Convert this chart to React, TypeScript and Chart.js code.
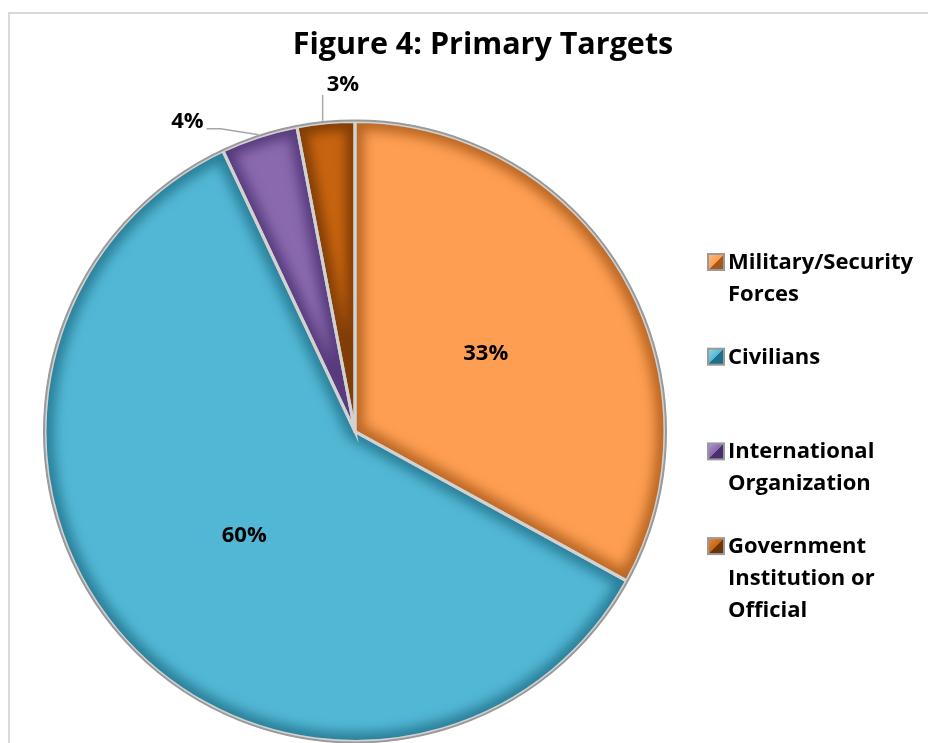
import React, { useEffect, useRef } from "react";
import { Chart, registerables } from "chart.js";

Chart.register(...registerables);

const titleText = "Figure 4: Primary Targets";
const categories = [
  "Military/Security Forces",
  "Civilians",
  "International Organization",
  "Government Institution or Official",
];
const legendLines = [
  ["Military/Security", "Forces"],
  ["Civilians"],
  ["International", "Organization"],
  ["Government", "Institution or", "Official"],
];
const shares = [33, 60, 4, 3];
const shareLabels = ["33%", "60%", "4%", "3%"];
const fillColors = ["#FD9E52", "#52B7D4", "#8A69AE", "#C8640F"];
const shadeColors = ["#A85818", "#1F6F88", "#4A2F70", "#6E3304"];
const lightColors = ["#FFC08A", "#9ADCEC", "#B79BD6", "#E8934A"];

const FONT = "'Open Sans', 'Noto Sans', sans-serif";

const decorPlugin = {
  id: "decor",
  beforeDraw(chart: any) {
    const ctx = chart.ctx as CanvasRenderingContext2D;
    ctx.save();
    ctx.fillStyle = "#ffffff";
    ctx.fillRect(0, 0, chart.width, chart.height);
    ctx.strokeStyle = "#d9d9d9";
    ctx.lineWidth = 2;
    ctx.beginPath();
    ctx.moveTo(9, chart.height);
    ctx.lineTo(9, 13);
    ctx.lineTo(chart.width, 13);
    ctx.stroke();
    ctx.restore();
  },
  afterDatasetsDraw(chart: any) {
    const ctx = chart.ctx as CanvasRenderingContext2D;
    const meta = chart.getDatasetMeta(0);
    const arcs = meta.data.map((a: any) =>
      a.getProps(["x", "y", "startAngle", "endAngle", "outerRadius"], true)
    );
    // inner bevel shading
    arcs.forEach((p: any, i: number) => {
      ctx.save();
      ctx.beginPath();
      ctx.moveTo(p.x, p.y);
      ctx.arc(p.x, p.y, p.outerRadius, p.startAngle, p.endAngle);
      ctx.closePath();
      ctx.clip();
      ctx.filter = "blur(6px)";
      ctx.globalAlpha = 0.8;
      ctx.strokeStyle = shadeColors[i];
      ctx.lineWidth = 18;
      ctx.stroke();
      ctx.restore();
    });
    // separators
    arcs.forEach((p: any) => {
      ctx.save();
      ctx.beginPath();
      ctx.moveTo(p.x, p.y);
      ctx.arc(p.x, p.y, p.outerRadius, p.startAngle, p.endAngle);
      ctx.closePath();
      ctx.lineJoin = "miter";
      ctx.strokeStyle = "#d2d2d2";
      ctx.lineWidth = 3;
      ctx.stroke();
      ctx.restore();
    });
    // outer rim
    if (arcs.length) {
      const p = arcs[0];
      ctx.save();
      ctx.beginPath();
      ctx.arc(p.x, p.y, p.outerRadius + 1, 0, Math.PI * 2);
      ctx.strokeStyle = "#9a9a9a";
      ctx.lineWidth = 2;
      ctx.stroke();
      ctx.restore();
    }
    // data labels
    ctx.save();
    ctx.font = `bold 22px ${FONT}`;
    ctx.fillStyle = "#000000";
    ctx.textBaseline = "middle";
    arcs.forEach((p: any, i: number) => {
      const a = (p.startAngle + p.endAngle) / 2;
      const dx = Math.cos(a);
      const dy = Math.sin(a);
      if (shares[i] >= 10) {
        ctx.textAlign = "center";
        ctx.fillText(shareLabels[i], p.x + dx * p.outerRadius * 0.49, p.y + dy * p.outerRadius * 0.49);
      } else {
        const ax = p.x + dx * (p.outerRadius + 2);
        const ay = p.y + dy * (p.outerRadius + 2);
        ctx.strokeStyle = "#a6a6a6";
        ctx.lineWidth = 1.5;
        ctx.beginPath();
        if (i === 2) {
          const ex = ax - 38;
          const ey = ay - 6;
          ctx.moveTo(ax, ay);
          ctx.lineTo(ex, ey);
          ctx.lineTo(ex - 14, ey);
          ctx.stroke();
          ctx.textAlign = "right";
          ctx.fillText(shareLabels[i], ex - 17, ey - 7);
        } else {
          ctx.moveTo(ax - 3, ay);
          ctx.lineTo(ax - 3, ay - 26);
          ctx.stroke();
          ctx.textAlign = "left";
          ctx.fillText(shareLabels[i], ax + 1, ay - 36);
        }
      }
    });
    ctx.restore();
  },
  afterDraw(chart: any) {
    const ctx = chart.ctx as CanvasRenderingContext2D;
    ctx.save();
    // title
    ctx.font = `bold 30.5px ${FONT}`;
    ctx.fillStyle = "#000000";
    ctx.textAlign = "center";
    ctx.textBaseline = "alphabetic";
    ctx.fillText(titleText, 483, 54);
    // legend
    ctx.font = `bold 22px ${FONT}`;
    ctx.textAlign = "left";
    legendLines.forEach((lines, i) => {
      const base = 269 + i * 94.7;
      const sx = 707;
      const sy = base - 16;
      ctx.fillStyle = "#9a9a9a";
      ctx.fillRect(sx, sy, 18, 18);
      const g = ctx.createLinearGradient(sx, sy, sx + 18, sy + 18);
      g.addColorStop(0, lightColors[i]);
      g.addColorStop(0.5, fillColors[i]);
      g.addColorStop(0.5, shadeColors[i]);
      g.addColorStop(1, shadeColors[i]);
      ctx.fillStyle = g;
      ctx.fillRect(sx + 2, sy + 2, 14, 14);
      ctx.fillStyle = "#000000";
      lines.forEach((t, k) => ctx.fillText(t, 728, base + k * 32));
    });
    ctx.restore();
  },
};

export default function App() {
  const ref = useRef<HTMLCanvasElement>(null);
  useEffect(() => {
    if (!ref.current) return;
    const chart = new Chart(ref.current, {
      type: "pie",
      data: {
        labels: categories,
        datasets: [
          {
            data: shares,
            backgroundColor: fillColors,
            borderColor: "#d2d2d2",
            borderWidth: 3,
          },
        ],
      },
      options: {
        responsive: false,
        animation: false,
        layout: { padding: { left: 42, right: 260, top: 120, bottom: 0 } },
        plugins: {
          legend: { display: false },
          title: { display: false },
          tooltip: { enabled: false },
        },
      },
      plugins: [decorPlugin],
    });
    return () => chart.destroy();
  }, []);
  return (
    <div style={{ position: "fixed", left: 0, top: 0, width: 928, height: 743, background: "#fff" }}>
      <canvas ref={ref} width={928} height={743} style={{ display: "block" }} />
    </div>
  );
}
